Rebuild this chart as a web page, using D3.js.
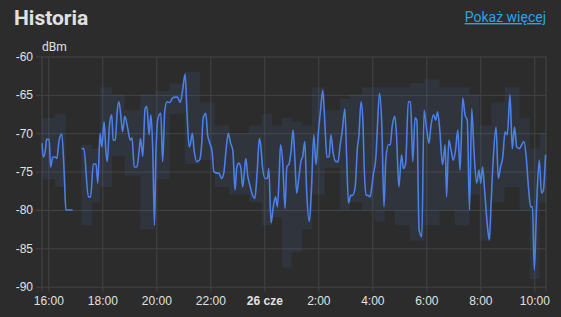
<!DOCTYPE html>
<html><head><meta charset="utf-8">
<script src="https://cdn.jsdelivr.net/npm/d3@7"></script>
<style>
html,body{margin:0;padding:0;background:#2c2c2c;}
svg{display:block;font-family:Roboto,"Noto Sans",sans-serif;}
</style></head><body>
<svg id="c" width="561" height="317"></svg>
<script>
// ---- data ----
const title = "Historia";
const linkText = "Pokaż więcej";
const unit = "dBm";
const yTicks = [-60, -65, -70, -75, -80, -85, -90];
const xTickTimes = ["16:00","18:00","20:00","22:00","00:00","02:00","04:00","06:00","08:00","10:00"];
const xTickLabels = ["16:00","18:00","20:00","22:00","26 cze","2:00","4:00","6:00","8:00","10:00"];

const times = ["15:46","15:49","15:54","15:56","16:02","16:05","16:10","16:15","16:19","16:24","16:30","16:36","16:39","16:54","17:04",
"17:14","17:19","17:29","17:34","17:40","17:46","17:50","17:55","17:59","18:04","18:08","18:11","18:16","18:21","18:24","18:29","18:33","18:37","18:41","18:45","18:50","18:56","19:02","19:06","19:11","19:17","19:22","19:25","19:30","19:35","19:39","19:44","19:48","19:52","19:56","19:59",
"20:04","20:10","20:14","20:19","20:24","20:30","20:36","20:42","20:47","20:53","20:58","21:04","21:08","21:13","21:16","21:20","21:24","21:30","21:36","21:41","21:44","21:50","21:54","21:59",
"22:04","22:08","22:14","22:19","22:25","22:30","22:35","22:40","22:45","22:50","22:55","22:59","23:04","23:08","23:12","23:16","23:19","23:23","23:28","23:34","23:39","23:44","23:49","23:52","23:56",
"00:02","00:07","00:10","00:15","00:20","00:25","00:29","00:33","00:36","00:41","00:46","00:50","00:55","00:59","01:04","01:08","01:12","01:17","01:22","01:25","01:30","01:34","01:40","01:45","01:50","01:55",
"02:00","02:05","02:10","02:15","02:19","02:24","02:28","02:33","02:39","02:44","02:48","02:53","02:59","03:03","03:07","03:12","03:16","03:22","03:27","03:30","03:35","03:39","03:42","03:46","03:51","03:55","03:59",
"04:02","04:08","04:11","04:16","04:21","04:26","04:30","04:36","04:40","04:44","04:50","04:54","04:59","05:05","05:09","05:14","05:20","05:25","05:30","05:35","05:39","05:44","05:50","05:55",
"06:01","06:06","06:10","06:16","06:21","06:25","06:30","06:36","06:42","06:45","06:50","06:55","07:00","07:05","07:10","07:15","07:21","07:26","07:31","07:36","07:41","07:46","07:52","07:57",
"08:01","08:05","08:10","08:16","08:20","08:24","08:29","08:35","08:40","08:45","08:50","08:55","09:00","09:06","09:11","09:16","09:21","09:27","09:32","09:37","09:42","09:47","09:52","09:56",
"10:00","10:05","10:11","10:16","10:20","10:25"];
const values = [-71.3,-73.1,-72.0,-70.8,-70.8,-74.4,-73.1,-73.1,-73.3,-70.9,-70.1,-76.1,-80,-80,null,
-72,-72,-78.3,-78.3,-74,-74,-76.5,-70,-71.8,-68.5,-72.4,-73.7,-68.9,-67.6,-70.9,-70.9,-67.2,-65.9,-67.6,-69.8,-67.8,-69.2,-70.9,-70.6,-74.4,-74.4,-72.2,-70.7,-73,-66.8,-66.5,-70.2,-67.6,-72,-82,-73,
-68,-67.4,-73.7,-67,-65.9,-66,-65.4,-65.3,-65.3,-66,-64.6,-62.3,-67,-71.8,-71.3,-70,-72.2,-73.7,-73.5,-71.3,-68.1,-67.4,-70.2,-71.3,
-72.4,-75,-75.2,-75.2,-75.9,-75.2,-72.2,-70,-71.3,-72.2,-77.4,-74.4,-73.9,-74.6,-77,-74.8,-73.3,-75.5,-76.8,-78.1,-78.5,-75.2,-70.7,-71.5,-74.4,
-75.9,-75.9,-74.6,-81.7,-79.6,-78.3,-79.6,-75.7,-71.5,-73.9,-79.8,-74.4,-74,-72.6,-69.6,-73.5,-77.8,-75.7,-73.5,-73.1,-71.1,-77.4,-81.5,-77,-70.2,-74.1,
-70,-67,-64.4,-69.2,-73.1,-73.1,-70.2,-72.6,-73.7,-73.7,-71.8,-69.8,-66.8,-73.1,-79.1,-78.1,-78.1,-77,-71.8,-70.5,-65.9,-68.3,-74.4,-78.1,-78.1,-78.3,-77,
-75.5,-73.1,-69.6,-64.8,-68.7,-79.6,-73.5,-71.5,-71.5,-69.2,-67.8,-70.5,-77,-72.8,-74.6,-74,-65.9,-65.9,-73.7,-68,-68.3,-82.6,-83.5,-67,
-69.6,-71.3,-69.2,-67.6,-68.3,-67.2,-69.6,-74.1,-71.5,-78.3,-70.9,-72.2,-73.5,-72.2,-69.6,-74.8,-65.4,-67.6,-68.3,-80,-66.8,-72.4,-76.5,-74.8,
-76.5,-74.4,-77.8,-82.2,-83.9,-79.1,-73.1,-69.2,-75.9,-74.4,-73.1,-69.8,-70.2,-65,-72,-69.2,-71.8,-72,-71.5,-71.1,-73.1,-77,-79.6,-79.6,
-87.8,-79.6,-73.5,-77.8,-77.5,-72.8];

// min / max band (statistics)
const bandTimes = ["15:46","16:15","16:39","16:55","17:13","17:37","17:55","18:22","18:50","19:24","19:57","20:30","21:03","21:37","22:10","22:42","23:26","23:55","00:17","00:39","01:01","01:24","01:46","02:15","02:48","03:10","03:37","04:06","04:28","04:50","05:23","05:56","06:30","07:03","07:36","07:58","08:25","08:54","09:27","09:50","10:12","10:26"];
const bandMax = [-68,-67.5,-80,null,-71.5,-72,-64,-65,-67,-65,-64.5,-63.5,-62,-66,-69,-70,-69,-67.5,-69,-68,-68.5,-69,-64,-67,-65.5,-65,-64,-64,-64,-64,-63.5,-63,-64,-64,-65,-69,-66,-64,-68,-72,-70,-70];
const bandMin = [-76,-77,-80,null,-82,-79,-77,-73,-75.5,-82.5,-76,-67.5,-74,-73.5,-77,-78,-79,-82,-81,-87.5,-85.5,-82.5,-78,-74.5,-80,-79,-80,-81.5,-80,-82,-84,-82,-80,-82,-78,-84,-79,-77,-80,-89,-79,-79];

// ---- drawing ----
const W = 561, H = 317;
const m = {left: 42, right: 546, top: 56.5, bottom: 286.7};
const svg = d3.select("#c");
const parse = d3.timeParse("%Y-%m-%d %H:%M");
function toDate(t){ const h = +t.slice(0,2); return parse((h < 15 ? "2024-06-26 " : "2024-06-25 ") + t); }

const x = d3.scaleTime().domain([toDate("15:46"), toDate("10:26")]).range([m.left, m.right]);
const y = d3.scaleLinear().domain([-90, -60]).range([m.bottom, m.top]);

svg.append("rect").attr("width", W).attr("height", H).attr("fill", "#2c2c2c");

const grid = "#444444";
// horizontal grid
const yAxis = d3.axisLeft(y).tickValues(yTicks).tickSize(0).tickFormat(d => String(d));
const gy = svg.append("g").attr("transform", `translate(${m.left},0)`).call(yAxis);
gy.select(".domain").remove();
gy.selectAll(".tick line").attr("stroke", grid).attr("x1", -6).attr("x2", m.right - m.left);
gy.selectAll(".tick text").attr("fill", "#e1e1e1").attr("font-size", 12).attr("x", -9);

// vertical grid
const xAxis = d3.axisBottom(x).tickValues(xTickTimes.map(toDate)).tickSize(0)
  .tickFormat((d, i) => xTickLabels[i]);
const gx = svg.append("g").attr("transform", `translate(0,${m.bottom})`).call(xAxis);
gx.select(".domain").remove();
gx.selectAll(".tick line").attr("stroke", grid).attr("y1", -(m.bottom - m.top)).attr("y2", 5);
gx.selectAll(".tick text").attr("fill", "#e1e1e1").attr("font-size", 12).attr("y", 18).attr("dy", 0)
  .attr("font-weight", (d, i) => xTickLabels[i] === "26 cze" ? "bold" : null);

// plot borders
svg.append("line").attr("x1", m.left).attr("x2", m.left).attr("y1", m.top).attr("y2", m.bottom + 5).attr("stroke", grid);
svg.append("line").attr("x1", m.right).attr("x2", m.right).attr("y1", m.top).attr("y2", m.bottom + 5).attr("stroke", grid);

// band
const band = bandTimes.map((t, i) => ({t: toDate(t), lo: bandMin[i], hi: bandMax[i]}));
const area = d3.area().curve(d3.curveStepAfter)
  .defined(d => d.lo !== null)
  .x(d => x(d.t)).y0(d => y(d.lo)).y1(d => y(d.hi));
svg.append("path").datum(band).attr("d", area).attr("fill", "rgba(76,128,236,0.09)");

// line
const pts = times.map((t, i) => ({t: toDate(t), v: values[i]}));
const line = d3.line().curve(d3.curveMonotoneX).defined(d => d.v !== null).x(d => x(d.t)).y(d => y(d.v));
svg.append("path").datum(pts).attr("d", line).attr("fill", "none").attr("stroke", "#4b7fe9").attr("stroke-width", 1.6).attr("stroke-linejoin", "round");

// texts
svg.append("text").attr("x", 14).attr("y", 25).text(title).attr("fill", "#e1e1e1").attr("font-size", 21).attr("font-weight", "bold");
svg.append("text").attr("x", 546).attr("y", 22).attr("text-anchor", "end").text(linkText).attr("fill", "#1ea8ef").attr("font-size", 14).attr("text-decoration", "underline");
svg.append("text").attr("x", 42).attr("y", 51).text(unit).attr("fill", "#e1e1e1").attr("font-size", 12);
</script>
</body></html>
